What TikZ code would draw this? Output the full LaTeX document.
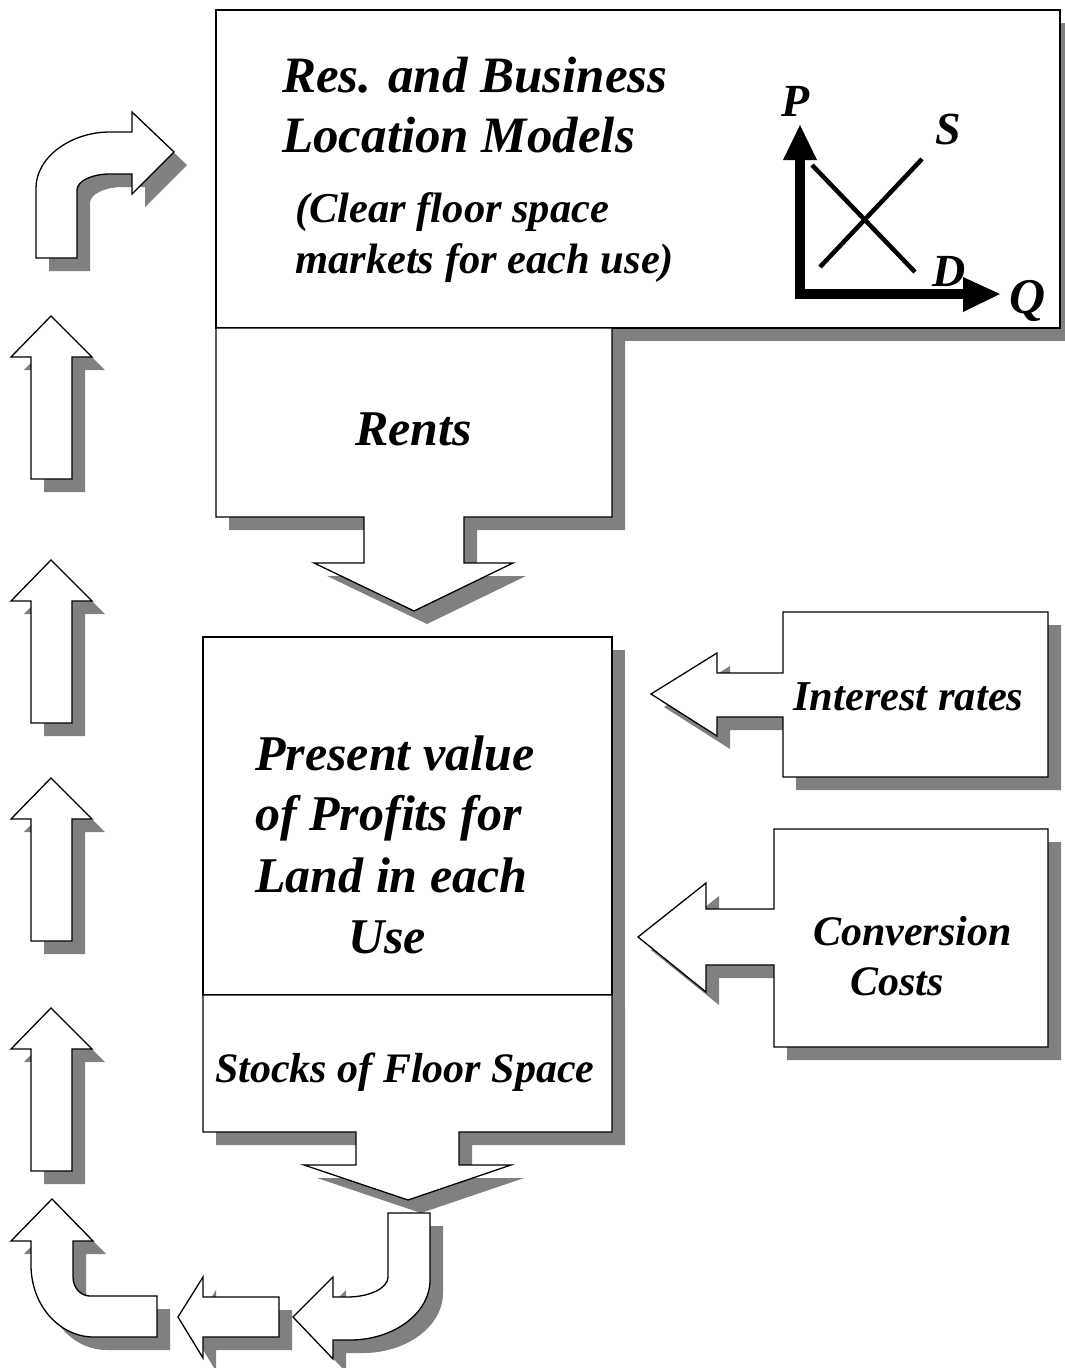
\documentclass[tikz,border=0pt]{standalone}
\usepackage{fontspec}
\setmainfont{Liberation Serif}
\definecolor{sg}{HTML}{808080}
\tikzset{
  blk/.style={fill=white, draw=black, line width=1.3pt, line join=miter,
    preaction={fill=sg, transform canvas={shift={(13pt,-13pt)}}}},
  txt/.style={anchor=base west, inner sep=0pt, font=\bfseries\itshape},
  axis/.style={line width=10pt, line join=miter},
  curve/.style={line width=4.5pt},
}
\newcommand{\fs}[1]{\fontsize{#1}{#1}\selectfont}
\begin{document}
\begin{tikzpicture}[x=1pt,y=-1pt]
\useasboundingbox (0,0) rectangle (1065,1368);
\fill[white] (0,0) rectangle (1065,1368);

% left column up arrows
\foreach \t in {316,560,778,1008}{
  \path[blk] (51,\t) -- (92,\t+41) -- (72,\t+41) -- (72,\t+163) -- (31,\t+163) -- (31,\t+41) -- (11,\t+41) -- cycle;
}

% top-left curved arrow
\path[blk] (36,258) -- (36,188) .. controls (36,157) and (71,132) .. (110,132) -- (132,132) -- (132,112) -- (174,152) -- (132,194) -- (132,174) -- (110,174) .. controls (92,174) and (77,181) .. (77,190) -- (77,258) -- cycle;

% top box
\path[blk] (216,10) rectangle (1060,328);
\node[txt] (t1) at (282,92) {\fs{51}Res. and Business};
\node[txt] (t2) at (282,152) {\fs{51}Location Models};
\node[txt] (t3) at (295,222) {\fs{42.5}(Clear floor space};
\node[txt] (t4) at (295,273) {\fs{42.5}markets for each use)};

% supply-demand chart
\draw[axis] (800,158) -- (800,294) -- (966,294);
\fill (783,160) -- (817,160) -- (800,125) -- cycle;
\fill (963,277) -- (963,312) -- (1000,294) -- cycle;
\draw[curve] (812,165) -- (915,272);
\draw[curve] (820,267) -- (922,159);
\node[txt] (P) at (781,116) {\fs{46}P};
\node[txt] (S) at (935,144) {\fs{46}S};
\node[txt] (D) at (932,286) {\fs{46}D};
\node[txt] (Q) at (1009,313) {\fs{50}Q};

% rents
\path[blk] (216,328) -- (612,328) -- (612,517) -- (464,517) -- (464,563) -- (513,563) -- (414,611) -- (314,563) -- (364,563) -- (364,517) -- (216,517) -- cycle;
\node[txt] (rents) at (355,445) {\fs{50}Rents};

% present value box
\path[blk] (203,637) rectangle (612,995);
\node[txt] (pv1) at (255,770) {\fs{50}Present value};
\node[txt] (pv2) at (255,830) {\fs{50}of Profits for};
\node[txt] (pv3) at (255,892) {\fs{50}Land in each};
\node[txt] (pv4) at (348,953) {\fs{50}Use};

% stocks
\path[blk] (203,995) -- (612,995) -- (612,1132) -- (459,1132) -- (459,1165) -- (511,1165) -- (408,1200) -- (304,1165) -- (356,1165) -- (356,1132) -- (203,1132) -- cycle;
\node[txt] (stocks) at (215,1082) {\fs{42}Stocks of Floor Space};

% interest rates
\path[blk] (783,612) -- (1048,612) -- (1048,777) -- (783,777) -- (783,717) -- (717,717) -- (717,736) -- (651,694) -- (717,653) -- (717,673) -- (783,673) -- cycle;
\node[txt] (ir) at (793,710) {\fs{42.5}Interest rates};

% conversion costs
\path[blk] (774,829) -- (1048,829) -- (1048,1047) -- (774,1047) -- (774,965) -- (706,965) -- (706,992) -- (638,937) -- (706,883) -- (706,909) -- (774,909) -- cycle;
\node[txt] (cc1) at (813,945) {\fs{42}Conversion};
\node[txt] (cc2) at (850,995) {\fs{42}Costs};

% bottom arrows
\path[blk] (388,1213) -- (430,1213) -- (430,1280) .. controls (430,1313) and (394,1340) .. (350,1340) -- (333,1340) -- (333,1359) -- (293,1317) -- (333,1277) -- (333,1297) -- (347,1297) .. controls (370,1297) and (388,1288) .. (388,1277) -- cycle;
\path[blk] (279,1297) -- (279,1337) -- (203,1337) -- (203,1358) -- (178,1317) -- (203,1277) -- (203,1297) -- cycle;
\path[blk] (52,1199) -- (93,1241) -- (73,1241) -- (73,1277) .. controls (73,1288) and (81,1296) .. (90,1296) -- (157,1296) -- (157,1337) -- (94,1337) .. controls (59,1337) and (31,1305) .. (31,1265) -- (31,1241) -- (11,1241) -- cycle;
\end{tikzpicture}
\end{document}
